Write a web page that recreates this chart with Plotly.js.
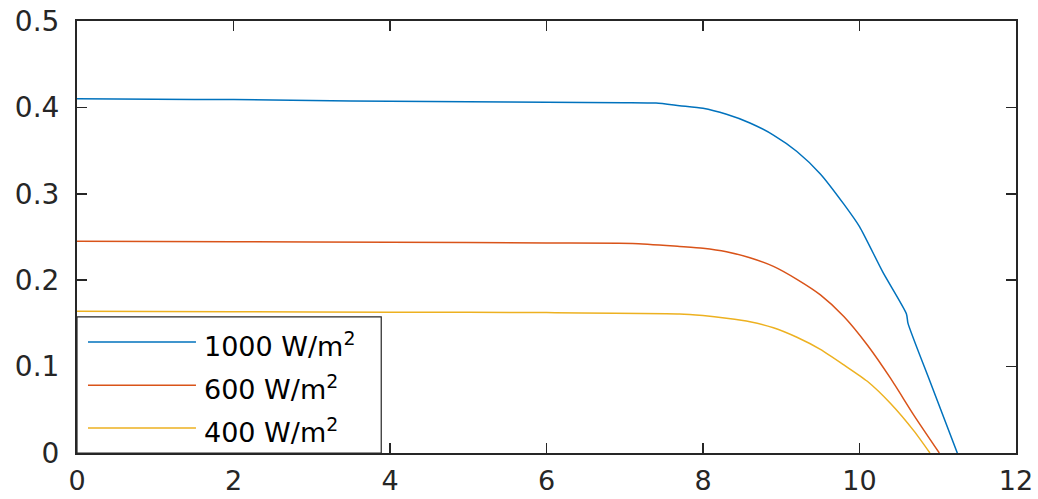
<!DOCTYPE html>
<html>
<head>
<meta charset="utf-8">
<script src="https://cdn.plot.ly/plotly-3.0.1.min.js"></script>
<style>
html,body{margin:0;padding:0;background:#fff;}
#chart{width:1038px;height:499px;}
</style>
</head>
<body>
<div id="chart"></div>
<script>
// Series: voltage (x) and current (y) for three irradiance levels
var v1000 = [0, 1, 2, 3, 4, 5, 6, 7, 7.4, 7.7, 8.0, 8.3, 8.6, 8.9, 9.2, 9.5, 9.8, 10.0, 10.3, 10.6, 10.62, 10.9, 11.25];
var i1000 = [0.410, 0.4095, 0.409, 0.408, 0.407, 0.4065, 0.406, 0.4055, 0.405, 0.402, 0.399, 0.392, 0.382, 0.368, 0.349, 0.323, 0.288, 0.262, 0.209, 0.161, 0.150, 0.083, 0.0];

var v600 = [0, 2, 4, 6, 7.1, 7.7, 8.0, 8.3, 8.6, 8.9, 9.2, 9.5, 9.8, 10.1, 10.4, 10.7, 11.02];
var i600 = [0.245, 0.2445, 0.244, 0.243, 0.2425, 0.239, 0.237, 0.233, 0.226, 0.216, 0.201, 0.183, 0.158, 0.125, 0.086, 0.043, 0.0];

var v400 = [0, 2, 4, 6, 7.7, 8.0, 8.3, 8.6, 8.9, 9.2, 9.5, 9.8, 10.1, 10.4, 10.7, 10.9];
var i400 = [0.164, 0.1635, 0.163, 0.1625, 0.161, 0.159, 0.156, 0.152, 0.145, 0.134, 0.120, 0.102, 0.083, 0.057, 0.025, 0.0];

var seriesNames = ['1000 W/m<sup>2</sup>', '600 W/m<sup>2</sup>', '400 W/m<sup>2</sup>'];
var seriesColors = ['#0072BD', '#D95319', '#EDB120'];

var xTicks = [0, 2, 4, 6, 8, 10, 12];
var yTicks = [0, 0.1, 0.2, 0.3, 0.4, 0.5];
var yTickText = ['0', '0.1', '0.2', '0.3', '0.4', '0.5'];

var xs = [v1000, v600, v400];
var ys = [i1000, i600, i400];

var traces = xs.map(function (x, k) {
  return {
    x: x, y: ys[k], type: 'scatter', mode: 'lines',
    line: {color: seriesColors[k], width: 1.5, shape: 'spline', smoothing: 0.6},
    name: seriesNames[k], showlegend: false, hoverinfo: 'skip'
  };
});

var axisColor = '#262626';
var fontFam = '"DejaVu Sans", "Liberation Sans", Arial, sans-serif';

// Manual MATLAB-style legend (box, sample lines, labels)
var legLineY = [0.257, 0.157, 0.058];
var shapes = [{
  type: 'rect', xref: 'paper', yref: 'paper', x0: 0, x1: 0.324, y0: 0, y1: 0.315,
  fillcolor: '#ffffff', line: {color: axisColor, width: 1.2}, layer: 'above'
}];
var annotations = [];
seriesNames.forEach(function (nm, k) {
  shapes.push({
    type: 'line', xref: 'paper', yref: 'paper', x0: 0.0117, x1: 0.1267,
    y0: legLineY[k], y1: legLineY[k], line: {color: seriesColors[k], width: 1.5}, layer: 'above'
  });
  annotations.push({
    xref: 'paper', yref: 'paper', x: 0.133, y: legLineY[k] - 0.006,
    xanchor: 'left', yanchor: 'middle', showarrow: false, text: nm,
    font: {family: fontFam, size: 27, color: '#000000'}
  });
});

var layout = {
  width: 1038, height: 499,
  margin: {l: 77, r: 22, t: 21, b: 46, pad: 0},
  paper_bgcolor: '#ffffff', plot_bgcolor: '#ffffff',
  font: {family: fontFam, size: 27, color: axisColor},
  xaxis: {
    range: [0, 12], tickvals: xTicks, ticktext: xTicks.map(String),
    ticks: 'inside', ticklen: 10, tickwidth: 1.5, tickcolor: axisColor,
    showline: true, linecolor: axisColor, linewidth: 2, mirror: 'ticks',
    showgrid: false, zeroline: false, ticklabelstandoff: 3,
    tickfont: {family: fontFam, size: 27, color: axisColor}
  },
  yaxis: {
    range: [0, 0.5], tickvals: yTicks, ticktext: yTickText,
    ticks: 'inside', ticklen: 10, tickwidth: 1.5, tickcolor: axisColor,
    showline: true, linecolor: axisColor, linewidth: 2, mirror: 'ticks',
    showgrid: false, zeroline: false, ticklabelstandoff: 10,
    tickfont: {family: fontFam, size: 28, color: axisColor}
  },
  shapes: shapes,
  annotations: annotations,
  showlegend: false
};

Plotly.newPlot('chart', traces, layout, {staticPlot: true, displayModeBar: false});
</script>
</body>
</html>
